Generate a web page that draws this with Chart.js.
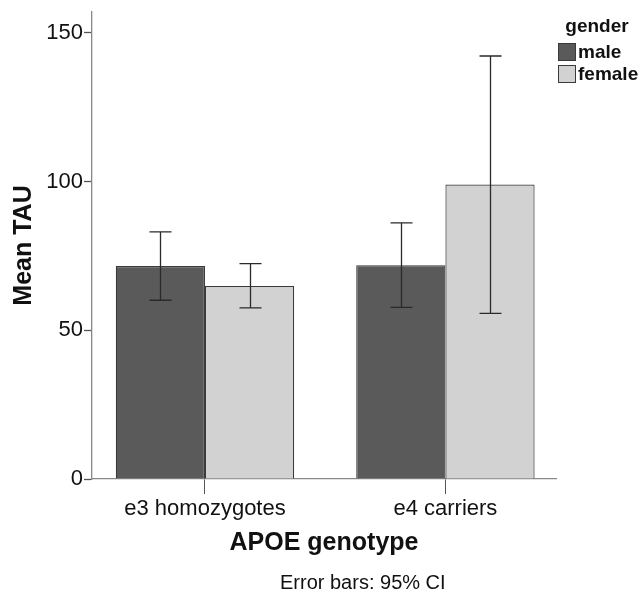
<!DOCTYPE html>
<html>
<head>
<meta charset="utf-8">
<script src="https://cdn.jsdelivr.net/npm/chart.js@4/dist/chart.umd.min.js"></script>
<style>
  html, body { margin: 0; padding: 0; background: #fff; }
  #wrap { width: 641px; height: 594px; }
</style>
</head>
<body>
<div id="wrap"><canvas id="chart"></canvas></div>
<script>
// data
const categories = ['e3 homozygotes', 'e4 carriers'];
const maleMean = [71.6, 71.9];
const maleLow = [60.1, 57.7];
const maleHigh = [83.1, 86.1];
const femaleMean = [64.9, 99.0];
const femaleLow = [57.5, 55.7];
const femaleHigh = [72.4, 142.2];
const yTicks = [0, 50, 100, 150];

const fontName = '"Liberation Sans", Arial, sans-serif';
Chart.defaults.font.family = fontName;
Chart.defaults.color = '#111';

// draws the CI whiskers, the legend box and the footnote
const extras = {
    id: 'extras',
    afterDatasetsDraw(chart) {
        const ctx = chart.ctx;
        const yScale = chart.scales.y;
        ctx.save();
        ctx.strokeStyle = '#2a2a2a';
        ctx.lineWidth = 1.3;
        chart.data.datasets.forEach((ds, i) => {
            const meta = chart.getDatasetMeta(i);
            meta.data.forEach((bar, j) => {
                const top = yScale.getPixelForValue(ds.high[j]);
                const bottom = yScale.getPixelForValue(ds.low[j]);
                const x = Math.round(bar.x) + 0.5;
                ctx.beginPath();
                ctx.moveTo(x, top);
                ctx.lineTo(x, bottom);
                ctx.moveTo(x - 11, top);
                ctx.lineTo(x + 11, top);
                ctx.moveTo(x - 11, bottom);
                ctx.lineTo(x + 11, bottom);
                ctx.stroke();
            });
        });
        ctx.restore();
    },
    afterDraw(chart) {
        const ctx = chart.ctx;
        const area = chart.chartArea;
        ctx.save();
        // legend
        const lx = area.right + 2;
        ctx.fillStyle = '#111';
        ctx.font = 'bold 19px ' + fontName;
        ctx.textAlign = 'center';
        ctx.textBaseline = 'middle';
        ctx.fillText('gender', area.right + 41, 27);
        ctx.textAlign = 'left';
        chart.data.datasets.forEach((ds, i) => {
            const by = 43 + i * 22;
            ctx.fillStyle = ds.backgroundColor;
            ctx.fillRect(lx, by, 18, 18);
            ctx.strokeStyle = '#3a3a3a';
            ctx.lineWidth = 1;
            ctx.strokeRect(lx + 0.5, by + 0.5, 17, 17);
            ctx.fillStyle = '#111';
            ctx.fillText(ds.label, lx + 20, by + 10);
        });
        // footnote
        ctx.font = '20px ' + fontName;
        ctx.textAlign = 'left';
        ctx.fillText('Error bars: 95% CI', (area.left + area.right) / 2 - 44, chart.height - 11);
        ctx.restore();
    }
};

new Chart(document.getElementById('chart'), {
    type: 'bar',
    data: {
        datasets: [{
            label: 'male',
            data: maleMean.map((v, i) => ({ x: i, y: v })),
            low: maleLow,
            high: maleHigh,
            backgroundColor: '#5a5a5a',
            borderColor: '#3a3a3a',
            borderWidth: 1.2
        }, {
            label: 'female',
            data: femaleMean.map((v, i) => ({ x: i, y: v })),
            low: femaleLow,
            high: femaleHigh,
            backgroundColor: '#d2d2d2',
            borderColor: '#3a3a3a',
            borderWidth: 1.2
        }]
    },
    options: {
        responsive: true,
        maintainAspectRatio: false,
        animation: false,
        categoryPercentage: 0.742,
        barPercentage: 1,
        layout: { padding: { top: 10, right: 85, bottom: 22, left: 0 } },
        plugins: {
            legend: { display: false },
            tooltip: { enabled: false }
        },
        scales: {
            x: {
                type: 'linear',
                min: -0.47,
                max: 1.46,
                offset: false,
                afterBuildTicks: scale => { scale.ticks = categories.map((c, i) => ({ value: i })); },
                afterFit: scale => { scale.height = 93; },
                ticks: {
                    callback: v => categories[v],
                    font: { size: 22 },
                    padding: 2,
                    maxRotation: 0
                },
                grid: { offset: false, drawOnChartArea: false, tickLength: 15, color: '#555', tickWidth: 1 },
                border: { color: '#888', width: 1.3 },
                title: {
                    display: true,
                    text: 'APOE genotype',
                    font: { size: 25, weight: 'bold' },
                    padding: { top: 0, bottom: 14 }
                }
            },
            y: {
                min: 0,
                max: 157,
                afterBuildTicks: scale => { scale.ticks = yTicks.map(v => ({ value: v })); },
                afterFit: scale => { scale.width = 92; },
                ticks: {
                    font: { size: 22, lineHeight: 1 },
                    padding: 1
                },
                grid: { drawOnChartArea: false, tickLength: 8, color: '#555', tickWidth: 1.3 },
                border: { color: '#888', width: 1.3 },
                title: {
                    display: true,
                    text: 'Mean TAU',
                    font: { size: 25, weight: 'bold' },
                    padding: { top: 9, bottom: 0 }
                }
            }
        }
    },
    plugins: [extras]
});
</script>
</body>
</html>
